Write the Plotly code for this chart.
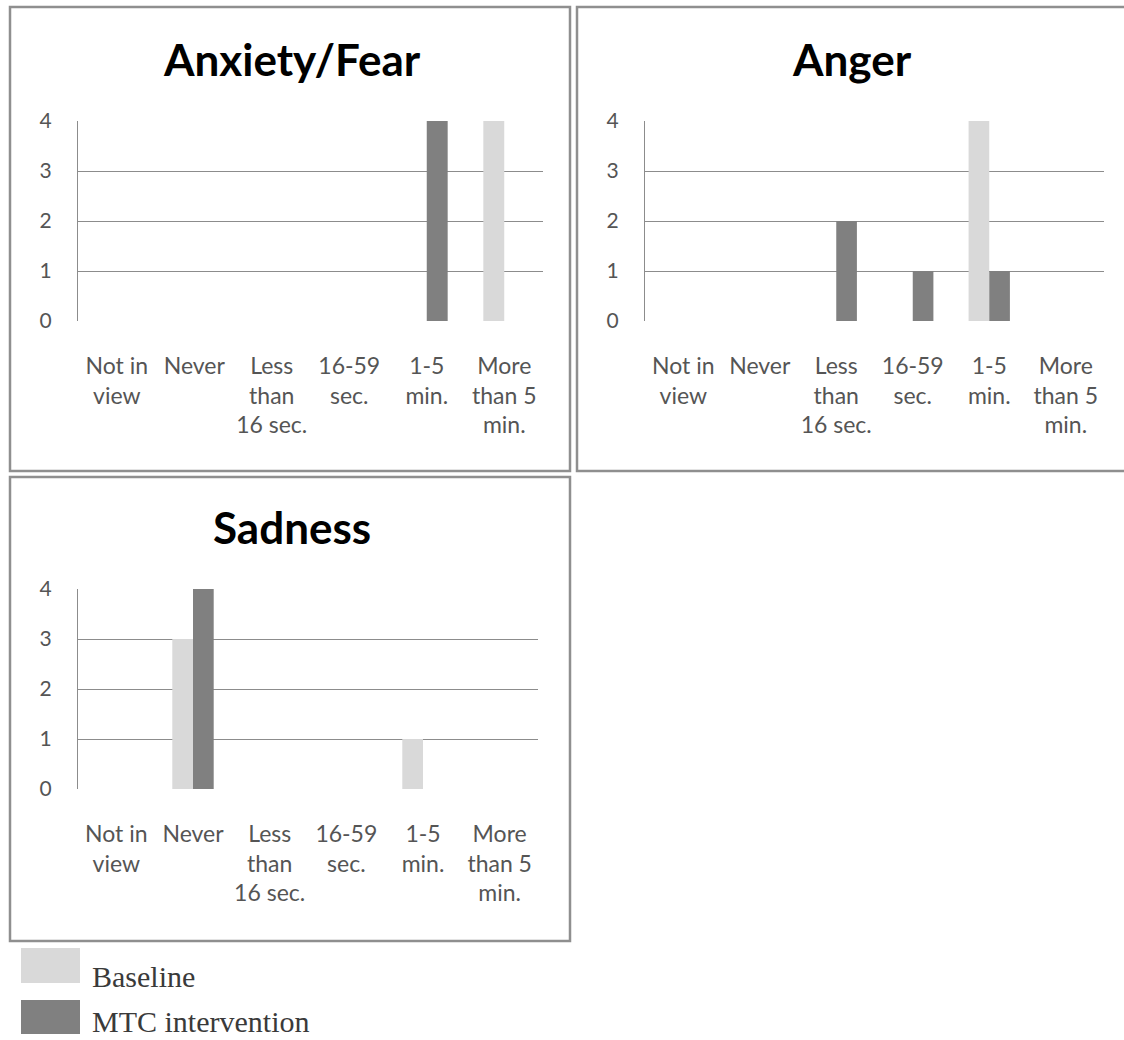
import plotly.graph_objects as go

W, H = 1124, 1040

categories = ["Not in view", "Never", "Less than 16 sec.", "16-59 sec.", "1-5 min.", "More than 5 min."]
tick_labels = ["Not in<br>view", "Never", "Less<br>than<br>16 sec.", "16-59<br>sec.", "1-5<br>min.", "More<br>than 5<br>min."]
series_names = ["Baseline", "MTC intervention"]
series_colors = ["#d9d9d9", "#808080"]

panel_titles = ["Anxiety/Fear", "Anger", "Sadness"]
anxiety_baseline = [0, 0, 0, 0, 0, 4]
anxiety_mtc = [0, 0, 0, 0, 4, 0]
anger_baseline = [0, 0, 0, 0, 4, 0]
anger_mtc = [0, 0, 2, 1, 1, 0]
sadness_baseline = [0, 3, 0, 0, 1, 0]
sadness_mtc = [0, 4, 0, 0, 0, 0]
y_ticks = [0, 1, 2, 3, 4]


def px(x):
    return x / W


def py(y):
    return 1 - y / H


# pixel layout: plot (left, right, top, bottom), panel box, title centre
panels = [
    dict(plot=(78, 543, 121, 321), box=(10, 570, 7, 471), title=(292, 59),
         data=(anxiety_baseline, anxiety_mtc)),
    dict(plot=(645, 1104, 121, 321), box=(577, 1140, 7, 471), title=(852, 59),
         data=(anger_baseline, anger_mtc)),
    dict(plot=(78, 538, 589, 789), box=(10, 570, 477, 941), title=(292, 527),
         data=(sadness_baseline, sadness_mtc)),
]

fig = go.Figure()
font_fam = "Lato, 'Open Sans', sans-serif"
label_font = dict(family=font_fam, size=23, color="#555555")
grid_col = "#8c8c8c"

shapes = []
annotations = []
for i, p in enumerate(panels):
    n = "" if i == 0 else str(i + 1)
    xa, ya = "x" + n, "y" + n
    for s, vals in enumerate(p["data"]):
        fig.add_trace(go.Bar(x=categories, y=vals, name=series_names[s],
                             marker=dict(color=series_colors[s], line=dict(width=0)),
                             xaxis=xa, yaxis=ya, showlegend=False, offsetgroup=str(s)))
    l, r, t, b = p["plot"]
    fig.layout["xaxis" + n] = dict(
        domain=[px(l), px(r)], anchor=ya, type="category",
        categoryorder="array", categoryarray=categories,
        tickmode="array", tickvals=categories, ticktext=tick_labels,
        ticks="outside", ticklen=24, tickcolor="rgba(0,0,0,0)",
        showgrid=False, showline=False, zeroline=False, tickfont=label_font,
        automargin=False, fixedrange=True)
    fig.layout["yaxis" + n] = dict(
        domain=[py(b), py(t)], anchor=xa, range=[0, 4],
        tickmode="array", tickvals=y_ticks,
        ticks="outside", ticklen=21, tickcolor="rgba(0,0,0,0)",
        showgrid=True, gridcolor=grid_col, gridwidth=1.3,
        showline=True, linecolor=grid_col, linewidth=1.3,
        zeroline=False, tickfont=dict(family=font_fam, size=21, color="#555555"),
        automargin=False, fixedrange=True)
    bl, br, bt, bb = p["box"]
    shapes.append(dict(type="rect", xref="paper", yref="paper",
                       x0=px(bl), x1=px(br), y0=py(bb), y1=py(bt),
                       line=dict(color="#8f8f8f", width=2.5), fillcolor="rgba(0,0,0,0)"))
    tx, ty = p["title"]
    annotations.append(dict(text="<b>" + panel_titles[i] + "</b>", xref="paper", yref="paper",
                            x=px(tx), y=py(ty), xanchor="center", yanchor="middle",
                            showarrow=False,
                            font=dict(family=font_fam, size=44, color="#000000")))

# legend
legend_rows = [(948, 983, 976), (1000, 1034, 1021)]
for s, (y0, y1, yt) in enumerate(legend_rows):
    shapes.append(dict(type="rect", xref="paper", yref="paper",
                       x0=px(21), x1=px(80), y0=py(y1), y1=py(y0),
                       line=dict(width=0), fillcolor=series_colors[s]))
    annotations.append(dict(text=series_names[s], xref="paper", yref="paper",
                            x=px(91), y=py(yt), xanchor="left", yanchor="middle",
                            showarrow=False, borderpad=0,
                            font=dict(family="Liberation Serif, 'Times New Roman', serif", size=30, color="#3a3a3a")))

fig.update_layout(
    width=W, height=H, margin=dict(l=0, r=0, t=0, b=0, pad=0, autoexpand=False),
    paper_bgcolor="white", plot_bgcolor="white",
    barmode="group", bargap=0.46, bargroupgap=0,
    shapes=shapes, annotations=annotations, showlegend=False,
)

fig.write_html("out.html", config={"displayModeBar": False},
               post_script="document.body.style.margin='0';document.body.style.overflow='hidden';")
